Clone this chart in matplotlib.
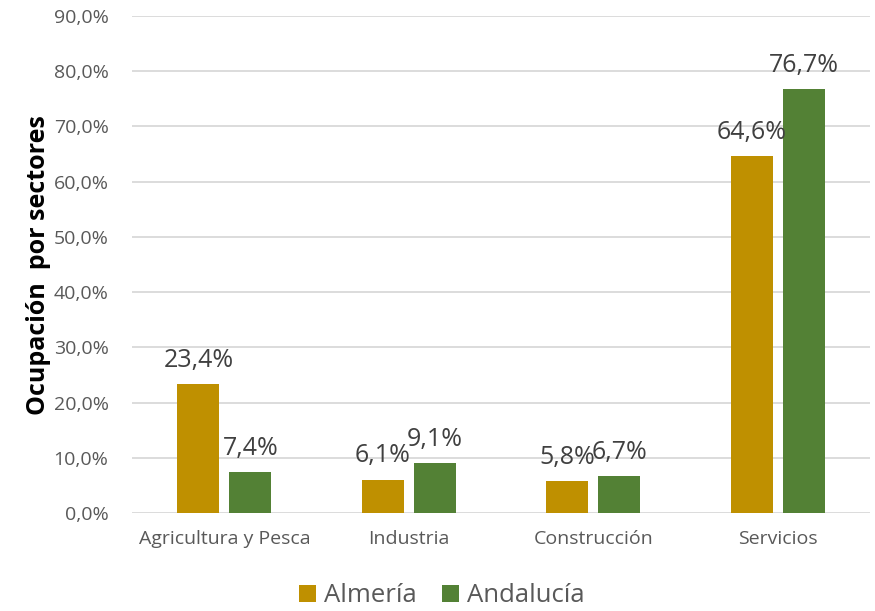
import matplotlib.pyplot as plt
import numpy as np

plt.rcParams['font.family'] = ['Open Sans', 'DejaVu Sans']

sectores = ['Agricultura y Pesca', 'Industria', 'Construcción', 'Servicios']
almeria = [23.4, 6.1, 5.8, 64.6]
andalucia = [7.4, 9.1, 6.7, 76.7]
yticks = [0, 10, 20, 30, 40, 50, 60, 70, 80, 90]

color_alm = '#BF9000'
color_and = '#538135'

fig = plt.figure(figsize=(8.75, 6.11), dpi=100)
ax = fig.add_axes([0.151, 0.160, 0.843, 0.814])

x = np.arange(len(sectores))
w = 0.228
b1 = ax.bar(x - 0.141, almeria, w, color=color_alm, label='Almería', zorder=3)
b2 = ax.bar(x + 0.141, andalucia, w, color=color_and, label='Andalucía', zorder=3)

# etiquetas de valor
for barras in (b1, b2):
    for b in barras:
        v = b.get_height()
        ax.annotate(('%.1f%%' % v).replace('.', ','),
                    (b.get_x() + b.get_width() / 2, v),
                    xytext=(0, 8), textcoords='offset points',
                    ha='center', va='bottom', fontsize=18, color='#404040')

ax.set_xlim(-0.5, 3.5)
ax.set_ylim(0, 90)
ax.set_yticks(yticks)
ax.set_yticklabels([('%.1f%%' % t).replace('.', ',') for t in yticks])
ax.set_xticks(x)
ax.set_xticklabels(sectores)
ax.tick_params(axis='both', length=0, labelsize=14, labelcolor='#595959')
ax.tick_params(axis='y', pad=17)
ax.tick_params(axis='x', pad=12)
ax.grid(axis='y', color='#D9D9D9', linewidth=1.3, zorder=0)
for s in ax.spines.values():
    s.set_visible(False)

ax.set_ylabel('Ocupación  por sectores', fontsize=18, fontweight='bold', color='black', labelpad=2)

ax.legend(loc='upper center', bbox_to_anchor=(0.42, -0.11), ncol=2, frameon=False,
          fontsize=18.5, labelcolor='#595959', handlelength=0.65, handleheight=0.65,
          handletextpad=0.3, columnspacing=1.0, borderaxespad=0.2)

fig.savefig('out.png', dpi=100)
